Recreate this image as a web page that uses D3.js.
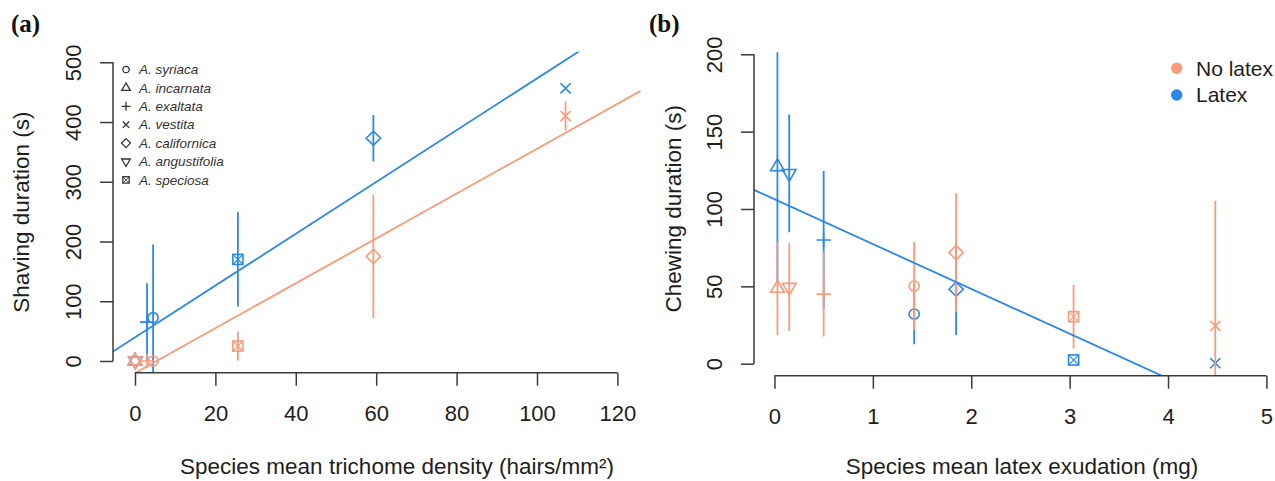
<!DOCTYPE html>
<html>
<head>
<meta charset="utf-8">
<script src="https://cdn.jsdelivr.net/npm/d3@7"></script>
<style>
  body { margin: 0; background: #fff; }
  svg { display: block; font-family: "Liberation Sans", Arial, sans-serif; }
</style>
</head>
<body>
<svg id="chart" width="1275" height="481"></svg>
<script>
// species, in legend order, with the R pch shape used for each
const species = ['A. syriaca', 'A. incarnata', 'A. exaltata', 'A. vestita', 'A. californica', 'A. angustifolia', 'A. speciosa'];
const shapes = ['circle', 'triangle', 'plus', 'cross', 'diamond', 'triangleDown', 'boxX'];

// panel (a): trichome density vs shaving duration
const trichome = [4.5, 0, 3.0, 107.1, 59.3, 0.1, 25.6];
const shaveLatex = [72.5, 0, 65, 456.5, 372.8, 0, 170];
const shaveLatexSE = [122.5, 0, 65, 0, 39, 0, 79];
const shaveNoLatex = [0, 0, 0, 410, 175, 0, 25];
const shaveNoLatexSE = [0, 0, 0, 24.5, 103, 0, 24.5];
const fitShaveLatex = [39.5, 4.335];      // intercept, slope
const fitShaveNoLatex = [-20.15, 3.754];

// panel (b): latex exudation vs chewing duration
const latexMg = [1.42, 0.03, 0.5, 4.48, 1.846, 0.15, 3.04];
const chewLatex = [32.1, 127.3, 80, 0.3, 48.1, 123, 2.4];
const chewLatexSE = [19.6, 74, 44.6, 0, 29.6, 38, 0];
const chewNoLatex = [50.2, 48.7, 45, 24.4, 71.8, 49.4, 30.4];
const chewNoLatexSE = [28.5, 30.2, 27.5, 81, 38.3, 28.5, 20.5];
const fitChewLatex = [106.3, -28.98];

const ticksAx = [0, 20, 40, 60, 80, 100, 120];
const ticksAy = [0, 100, 200, 300, 400, 500];
const ticksBx = [0, 1, 2, 3, 4, 5];
const ticksBy = [0, 50, 100, 150, 200];
const groups = ['No latex', 'Latex'];

const colors = { 'No latex': '#fa9b7a', 'Latex': '#2a88ec' };
const axisColor = '#3a3a3a';
const textColor = '#1e1e1e';

const svg = d3.select('#chart');
svg.append('rect').attr('width', 1275).attr('height', 481).attr('fill', '#fff');

// R style point symbols, cs ~ character size
const marker = (g, shape, cx, cy, cs, color, sw) => {
    const r = 0.375 * cs;
    const s = g.append('g').attr('fill', 'none').attr('stroke', color)
        .attr('stroke-width', sw).attr('transform', `translate(${cx},${cy})`);
    if (shape === 'circle') {
        s.append('circle').attr('r', r);
    } else if (shape === 'triangle' || shape === 'triangleDown') {
        const tr = 1.5551 * r, hw = tr * Math.sqrt(3) / 2, sg = shape === 'triangle' ? 1 : -1;
        s.append('path').attr('d', `M0,${-sg * tr}L${hw},${sg * tr / 2}L${-hw},${sg * tr / 2}Z`);
    } else if (shape === 'plus') {
        const h = Math.SQRT2 * r;
        s.append('path').attr('d', `M${-h},0H${h}M0,${-h}V${h}`);
    } else if (shape === 'cross') {
        s.append('path').attr('d', `M${-r},${-r}L${r},${r}M${-r},${r}L${r},${-r}`);
    } else if (shape === 'diamond') {
        const h = Math.SQRT2 * r;
        s.append('path').attr('d', `M0,${-h}L${h},0L0,${h}L${-h},0Z`);
    } else if (shape === 'boxX') {
        s.append('rect').attr('x', -r).attr('y', -r).attr('width', 2 * r).attr('height', 2 * r);
        s.append('path').attr('d', `M${-r},${-r}L${r},${r}M${-r},${r}L${r},${-r}`).attr('stroke-width', sw * 0.7);
    }
};

const drawPanel = (opt) => {
    const { x, y, id } = opt;
    const [x0, x1] = x.range(), [y0, y1] = y.range();
    const g = svg.append('g');

    g.append('clipPath').attr('id', id).append('rect')
        .attr('x', x0).attr('y', y1).attr('width', x1 - x0).attr('height', y0 - y1);
    const plot = g.append('g').attr('clip-path', `url(#${id})`);

    // series: latex first, no latex on top
    opt.series.forEach(ser => {
        const c = colors[ser.group];
        plot.selectAll(null).data(ser.mean).enter().append('line')
            .attr('x1', (d, i) => x(opt.xs[i])).attr('x2', (d, i) => x(opt.xs[i]))
            .attr('y1', (d, i) => y(d - ser.se[i])).attr('y2', (d, i) => y(d + ser.se[i]))
            .attr('stroke', c).attr('stroke-width', 1.8);
        ser.mean.forEach((d, i) => marker(plot, shapes[i], x(opt.xs[i]), y(d), 13.5, c, 1.6));
    });

    // fitted lines across the whole plot region
    opt.fits.forEach(f => {
        const dx = x.domain();
        plot.append('line')
            .attr('x1', x(dx[0])).attr('y1', y(f.coef[0] + f.coef[1] * dx[0]))
            .attr('x2', x(dx[1])).attr('y2', y(f.coef[0] + f.coef[1] * dx[1]))
            .attr('stroke', colors[f.group]).attr('stroke-width', 1.8);
    });

    // x axis
    const xa = g.append('g').attr('transform', `translate(0,${y0})`)
        .call(d3.axisBottom(x).tickValues(opt.xt).tickSize(13).tickFormat(d3.format('d')));
    xa.select('.domain').remove();
    xa.append('line').attr('x1', x(opt.xt[0])).attr('x2', x(opt.xt[opt.xt.length - 1]))
        .attr('stroke', axisColor).attr('stroke-width', 1.5);
    xa.selectAll('.tick line').attr('stroke', axisColor).attr('stroke-width', 1.5);
    xa.selectAll('.tick text').attr('y', 41).attr('dy', '0.35em')
        .attr('font-size', 22).attr('fill', textColor).attr('font-family', 'Liberation Sans, Arial, sans-serif');

    // y axis, labels parallel to the axis
    const ya = g.append('g').attr('transform', `translate(${x0},0)`)
        .call(d3.axisLeft(y).tickValues(opt.yt).tickSize(13).tickFormat(d3.format('d')));
    ya.select('.domain').remove();
    ya.append('line').attr('y1', y(opt.yt[0])).attr('y2', y(opt.yt[opt.yt.length - 1]))
        .attr('stroke', axisColor).attr('stroke-width', 1.5);
    ya.selectAll('.tick line').attr('stroke', axisColor).attr('stroke-width', 1.5);
    ya.selectAll('.tick text').attr('x', 0).attr('y', -39.5).attr('dy', '0.35em')
        .attr('transform', 'rotate(-90)').attr('text-anchor', 'middle')
        .attr('font-size', 22).attr('fill', textColor).attr('font-family', 'Liberation Sans, Arial, sans-serif');

    g.append('text').attr('x', opt.xTitleX).attr('y', 466).attr('dy', '0.35em')
        .attr('text-anchor', 'middle').attr('font-size', 22.5).attr('fill', textColor)
        .text(opt.xTitle);
    g.append('text').attr('transform', `translate(${opt.yTitleX},${(y0 + y1) / 2}) rotate(-90)`)
        .attr('dy', '0.35em').attr('text-anchor', 'middle').attr('font-size', 22.5).attr('fill', textColor)
        .text(opt.yTitle);

    g.append('text').attr('x', opt.tagX).attr('y', 32)
        .attr('font-family', 'Liberation Serif, Times New Roman, serif').attr('font-weight', 'bold')
        .attr('font-size', 25).attr('fill', '#111').text(opt.tag);
    return g;
};

const xA = d3.scaleLinear().domain([-5.47, 125.8]).range([113, 640.7]);
const yA = d3.scaleLinear().domain([-19.6, 517.7]).range([372.7, 51.7]);
const xB = d3.scaleLinear().domain([-0.208, 5.2]).range([754, 1286.1]);
const yB = d3.scaleLinear().domain([-7.76, 208]).range([375.7, 41.9]);

drawPanel({
    id: 'clipA', x: xA, y: yA, xs: trichome, xt: ticksAx, yt: ticksAy,
    series: [
        { group: 'Latex', mean: shaveLatex, se: shaveLatexSE },
        { group: 'No latex', mean: shaveNoLatex, se: shaveNoLatexSE }
    ],
    fits: [
        { group: 'Latex', coef: fitShaveLatex },
        { group: 'No latex', coef: fitShaveNoLatex }
    ],
    xTitle: 'Species mean trichome density (hairs/mm²)', xTitleX: 397,
    yTitle: 'Shaving duration (s)', yTitleX: 21,
    tag: '(a)', tagX: 11
});

drawPanel({
    id: 'clipB', x: xB, y: yB, xs: latexMg, xt: ticksBx, yt: ticksBy,
    series: [
        { group: 'Latex', mean: chewLatex, se: chewLatexSE },
        { group: 'No latex', mean: chewNoLatex, se: chewNoLatexSE }
    ],
    fits: [{ group: 'Latex', coef: fitChewLatex }],
    xTitle: 'Species mean latex exudation (mg)', xTitleX: 1022,
    yTitle: 'Chewing duration (s)', yTitleX: 673,
    tag: '(b)', tagX: 649
});

// species legend in panel (a)
const legA = svg.append('g');
species.forEach((s, i) => {
    const ly = 69.5 + i * 18.4;
    marker(legA, shapes[i], 126, ly, 8.5, '#333', 1.3);
    legA.append('text').attr('x', 139).attr('y', ly).attr('dy', '0.35em')
        .attr('font-size', 13.5).attr('font-style', 'italic').attr('fill', '#333').text(s);
});

// treatment legend in panel (b)
const legB = svg.append('g');
groups.forEach((s, i) => {
    const ly = 68.3 + i * 26.7;
    legB.append('circle').attr('cx', 1176.7).attr('cy', ly).attr('r', 5.7).attr('fill', colors[s]);
    legB.append('text').attr('x', 1196).attr('y', ly).attr('dy', '0.35em')
        .attr('font-size', 21).attr('fill', textColor).text(s);
});
</script>
</body>
</html>
